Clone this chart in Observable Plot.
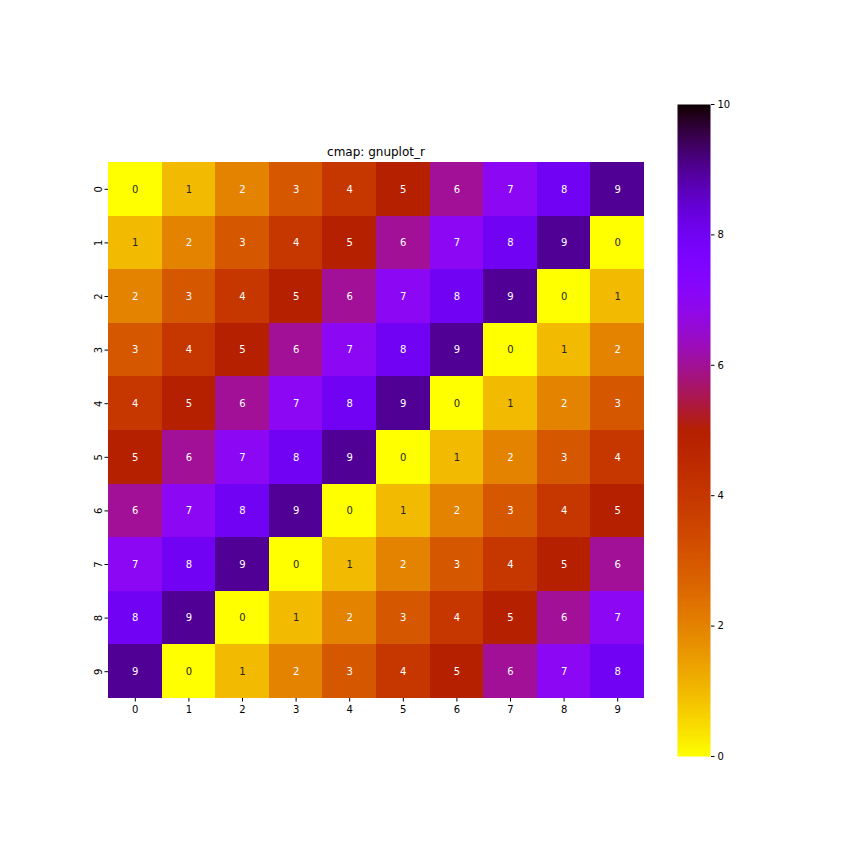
<!DOCTYPE html>
<html>
<head>
<meta charset="utf-8">
<script src="https://cdn.jsdelivr.net/npm/d3@7"></script>
<script src="https://cdn.jsdelivr.net/npm/@observablehq/plot@0.6"></script>
<style>
  html, body { margin: 0; padding: 0; background: white; }
  #wrap { position: relative; width: 864px; height: 864px; font-family: "DejaVu Sans", sans-serif; }
  #wrap > * { position: absolute; left: 0; top: 0; }
  #title { position: absolute; left: 108px; width: 536px; top: 145px; text-align: center; font-size: 12px; color: #000; line-height: 14px; }
</style>
</head>
<body>
<div id="wrap"></div>
<script>
const rowLabels = ["0","1","2","3","4","5","6","7","8","9"];
const colLabels = ["0","1","2","3","4","5","6","7","8","9"];
const row0 = [0,1,2,3,4,5,6,7,8,9];
const row1 = [1,2,3,4,5,6,7,8,9,0];
const row2 = [2,3,4,5,6,7,8,9,0,1];
const row3 = [3,4,5,6,7,8,9,0,1,2];
const row4 = [4,5,6,7,8,9,0,1,2,3];
const row5 = [5,6,7,8,9,0,1,2,3,4];
const row6 = [6,7,8,9,0,1,2,3,4,5];
const row7 = [7,8,9,0,1,2,3,4,5,6];
const row8 = [8,9,0,1,2,3,4,5,6,7];
const row9 = [9,0,1,2,3,4,5,6,7,8];
const colorbarTicks = [0,2,4,6,8,10];
const titleText = "cmap: gnuplot_r";

const matrix = [row0,row1,row2,row3,row4,row5,row6,row7,row8,row9];
const cells = [];
matrix.forEach((r, i) => r.forEach((v, j) => cells.push({row: rowLabels[i], col: colLabels[j], value: v})));

// matplotlib gnuplot colormap, reversed: r = sqrt(x), g = x^3, b = sin(2*pi*x)
function gnuplotR(t) {
  const x = 1 - Math.max(0, Math.min(1, t));
  const r = Math.sqrt(x), g = x * x * x, b = Math.max(0, Math.min(1, Math.sin(2 * Math.PI * x)));
  return d3.rgb(r * 255, g * 255, b * 255).formatHex();
}
const colorScale = {type: "linear", domain: [0, 10], interpolate: gnuplotR};

const font = "DejaVu Sans, sans-serif";

const heat = Plot.plot({
  width: 864, height: 864,
  marginLeft: 108, marginRight: 220, marginTop: 162, marginBottom: 166,
  style: {fontFamily: font, fontSize: "10px", color: "#000", background: "transparent"},
  x: {type: "band", domain: colLabels, padding: 0, round: false, label: null},
  y: {type: "band", domain: rowLabels, padding: 0, round: false, label: null},
  color: colorScale,
  marks: [
    Plot.cell(cells, {x: "col", y: "row", fill: "value", inset: 0, shapeRendering: "crispEdges"}),
    Plot.text(cells, {x: "col", y: "row", text: d => String(d.value), fill: d => d.value <= 1 ? "#262626" : "#ffffff", fontSize: 10}),
    Plot.axisX({anchor: "bottom", tickSize: 3.5, tickPadding: 3.5, fontSize: 10, label: null}),
    Plot.axisY({anchor: "left", tickSize: 3.5, tickPadding: 3.5, tickRotate: -90, fontSize: 10, label: null})
  ]
});

const cbar = Plot.plot({
  width: 864, height: 864,
  marginLeft: 677, marginRight: 154, marginTop: 104, marginBottom: 108,
  style: {fontFamily: font, fontSize: "10px", color: "#000", background: "transparent"},
  x: {domain: [0, 1], axis: null},
  y: {domain: [0, 10], label: null},
  color: colorScale,
  marks: [
    Plot.raster({x1: 0, x2: 1, y1: 0, y2: 10, width: 1, height: 256, fill: (x, y) => y}),
    Plot.axisY({anchor: "right", ticks: colorbarTicks, tickSize: 3.5, tickPadding: 3.5, fontSize: 10, label: null})
  ]
});
cbar.style.pointerEvents = "none";

const wrap = document.getElementById("wrap");
wrap.appendChild(heat);
wrap.appendChild(cbar);
const t = document.createElement("div");
t.id = "title";
t.textContent = titleText;
wrap.appendChild(t);
</script>
</body>
</html>
